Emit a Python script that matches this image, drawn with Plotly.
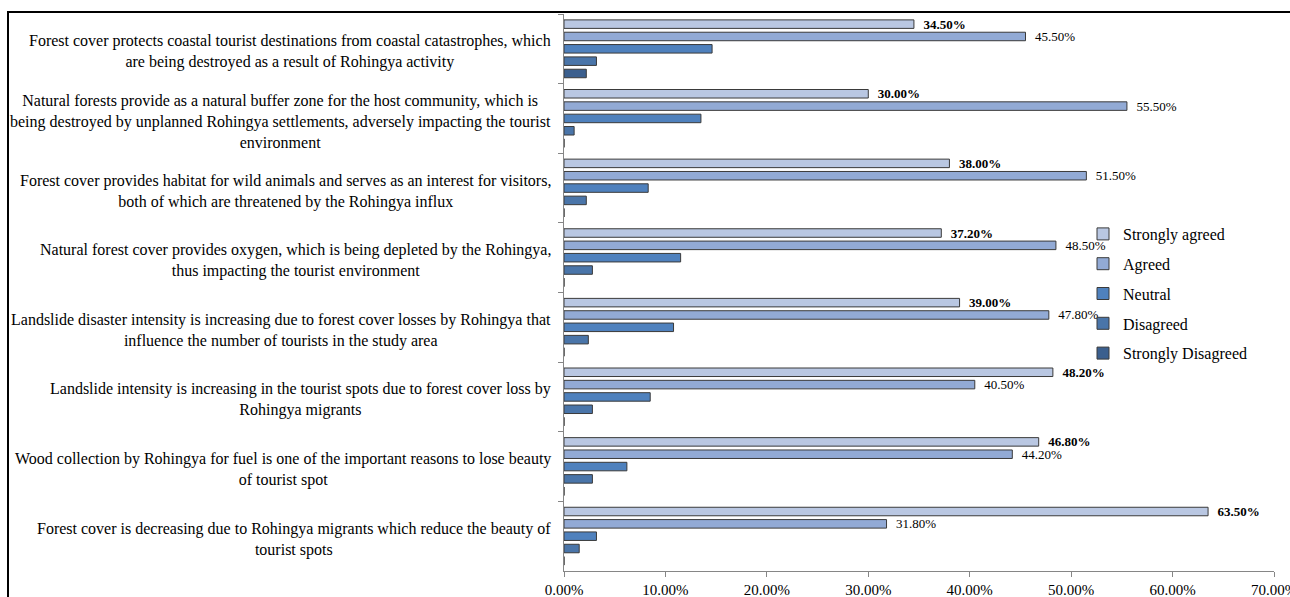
import plotly.graph_objects as go

categories = [
    "Forest cover protects coastal tourist destinations from coastal catastrophes, which<br>are being destroyed as a result of Rohingya activity",
    "Natural forests provide as a natural buffer zone for the host community, which is<br>being destroyed by unplanned Rohingya settlements, adversely impacting the tourist<br>environment",
    "Forest cover provides habitat for wild animals and serves as an interest for visitors,<br>both of which are threatened by the Rohingya influx",
    "Natural forest cover provides oxygen, which is being depleted by the Rohingya,<br>thus impacting the tourist environment",
    "Landslide disaster intensity is increasing due to forest cover losses by Rohingya that<br>influence the number of tourists in the study area",
    "Landslide intensity is increasing in the tourist spots due to forest cover loss by<br>Rohingya migrants",
    "Wood collection by Rohingya for fuel is one of the important reasons to lose beauty<br>of tourist spot",
    "Forest cover is decreasing due to Rohingya migrants which reduce the beauty of<br>tourist spots",
]

strongly_agreed = [0.345, 0.300, 0.380, 0.372, 0.390, 0.482, 0.468, 0.635]
agreed = [0.455, 0.555, 0.515, 0.485, 0.478, 0.405, 0.442, 0.318]
neutral = [0.146, 0.135, 0.083, 0.115, 0.108, 0.085, 0.062, 0.032]
disagreed = [0.032, 0.010, 0.022, 0.028, 0.024, 0.028, 0.028, 0.015]
strongly_disagreed = [0.022, 0.0, 0.0, 0.0, 0.0, 0.0, 0.0, 0.0]

x_ticks = [0.0, 0.1, 0.2, 0.3, 0.4, 0.5, 0.6, 0.7]

series = [
    ("Strongly agreed", strongly_agreed, "#b9c7e2", "bold"),
    ("Agreed", agreed, "#92aad5", "normal"),
    ("Neutral", neutral, "#4f81bd", None),
    ("Disagreed", disagreed, "#4a75a9", None),
    ("Strongly Disagreed", strongly_disagreed, "#3b5f8e", None),
]

FONT = "Liberation Serif"
W, H = 1290, 597
ML, MR, MT, MB = 564, 16, 14, 26
PW = W - ML - MR
PH = H - MT - MB

fig = go.Figure()
for i, (name, vals, color, weight) in enumerate(series):
    kw = {}
    if weight is not None:
        kw = dict(
            text=vals,
            texttemplate="\u00a0\u00a0%{x:.2%}",
            textposition="outside",
            textfont=dict(family=FONT, size=13, color="#000000", weight=weight),
            constraintext="none",
            cliponaxis=False,
        )
    fig.add_trace(go.Bar(
        y=categories, x=vals, name=name, orientation="h",
        marker=dict(color=color, line=dict(color="#3a3a3a", width=1)),
        legendgroup=name, hoverinfo="skip",
        **kw,
    ))

# Category labels (centered multi-line, right-anchored)
for c in categories:
    fig.add_annotation(
        x=(553 - ML) / PW, xref="paper", y=c, yref="y", yshift=-3,
        text=c, showarrow=False, xanchor="right", yanchor="middle", align="center",
        font=dict(family=FONT, size=16, color="#000000"),
    )

# Outer chart border (top and left visible)
fig.add_shape(type="rect", xref="paper", yref="paper",
              x0=(8 - ML) / PW, x1=2, y0=-1, y1=(H - MB - 12) / PH,
              line=dict(color="#000000", width=2), fillcolor="rgba(0,0,0,0)", layer="above")

fig.update_layout(
    width=W, height=H,
    margin=dict(l=ML, r=MR, t=MT, b=MB, autoexpand=False),
    paper_bgcolor="white", plot_bgcolor="white",
    barmode="group", bargap=0.114, bargroupgap=0.31,
    font=dict(family=FONT, color="#000000"),
    showlegend=True,
    legend=dict(
        x=(1083 - ML) / PW, xanchor="left", y=(H - MB - 217) / PH, yanchor="top",
        font=dict(family=FONT, size=16, color="#000000"),
        bgcolor="rgba(0,0,0,0)", traceorder="grouped", tracegroupgap=6,
    ),
    xaxis=dict(
        range=[0, 0.70], tickvals=x_ticks, tickformat=".2%",
        showgrid=False, zeroline=False, showline=True, linecolor="#868686", linewidth=1,
        ticks="outside", ticklen=5, tickcolor="#868686",
        tickfont=dict(family=FONT, size=15, color="#000000"),
        automargin=False, ticklabeloverflow="allow",
    ),
    yaxis=dict(
        autorange="reversed", showgrid=False, zeroline=False,
        showline=True, linecolor="#868686", linewidth=1,
        ticks="outside", ticklen=5, tickcolor="#868686", tickson="boundaries",
        showticklabels=False, automargin=False,
    ),
)

fig.write_html("out.html")
